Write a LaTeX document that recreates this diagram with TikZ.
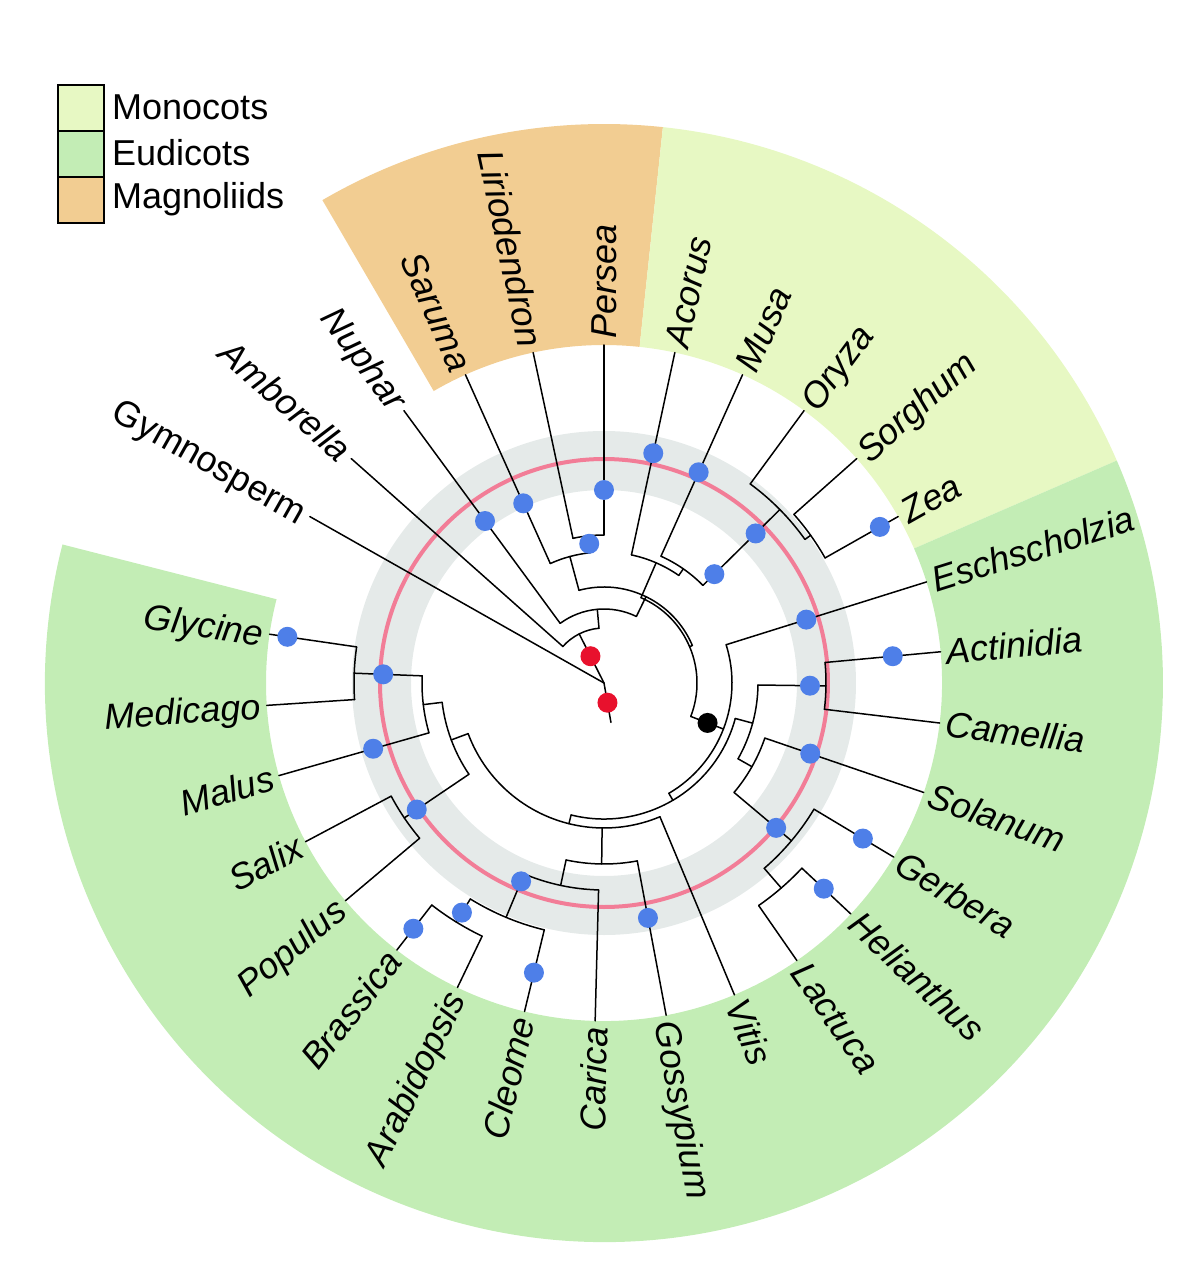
\documentclass[tikz,border=0pt]{standalone}
\usepackage{fontspec}
\setmainfont{Liberation Sans}
\definecolor{mono}{HTML}{E7F8C3}
\definecolor{eudi}{HTML}{C3EDB5}
\definecolor{magn}{HTML}{F2CD92}
\definecolor{ringgrey}{HTML}{E5EAE9}
\definecolor{ringpink}{HTML}{F27D97}
\definecolor{dotblue}{HTML}{4E7FE8}
\definecolor{dotred}{HTML}{E8112D}
\tikzset{
  br/.style={line width=1.5pt, black, line cap=round, line join=round},
  lab/.style={font=\fontsize{36}{40}\selectfont\itshape, inner sep=0pt, text height=26pt, text depth=0pt},
  labup/.style={font=\fontsize{36}{40}\selectfont, inner sep=0pt, text height=26pt, text depth=0pt},
  legbox/.style={draw=black, line width=1.8pt},
  legtext/.style={font=\fontsize{36}{40}\selectfont, inner sep=0pt, anchor=west},
  bluedot/.style={fill=dotblue},
  reddot/.style={fill=dotred},
}
\newcommand\tbranch[4]{\coordinate (#1-b) at (#2:#3pt); \coordinate (#1) at (#2:#4pt); \draw[br] (#1-b) -- (#1);}
\newcommand\tarc[3]{\draw[br] (#2:#1pt) arc[start angle=#2, end angle=#3, radius=#1pt];}
\newcommand\bdot[2]{\fill[bluedot] (#1:#2pt) circle[radius=10pt];}
\newcommand\rlab[3]{\node[lab, anchor=west, rotate=#2] (t-#1) at (#2:344pt) {#3};}
\newcommand\llab[3]{\node[lab, anchor=east, rotate=#2+180] (t-#1) at (#2:344pt) {#3};}
\newcommand\band[3]{\fill[#1] (#2:338pt) arc[start angle=#2, end angle=#3, radius=338pt] -- (#3:559pt) arc[start angle=#3, end angle=#2, radius=559pt] -- cycle;}
\begin{document}
\begin{tikzpicture}
\useasboundingbox (-604pt,-603pt) rectangle (596pt,683pt);
\coordinate (C) at (0,0);
% clade bands
\band{magn}{120.25}{83.95}
\band{mono}{83.95}{23.45}
\band{eudi}{23.45}{-194.35}
% legend
\draw[legbox, fill=mono] (-546pt,598pt) rectangle (-500pt,552pt);
\draw[legbox, fill=eudi] (-546pt,552pt) rectangle (-500pt,506pt);
\draw[legbox, fill=magn] (-546pt,506pt) rectangle (-500pt,460pt);
\node[legtext] (leg1) at (-492pt,576pt) {Monocots};
\node[legtext] (leg2) at (-492pt,530pt) {Eudicots};
\node[legtext] (leg3) at (-492pt,484pt) {Magnoliids};
% rings
\fill[ringgrey, even odd rule] (C) circle[radius=252pt] (C) circle[radius=193pt];
\draw[ringpink, line width=4pt] (C) circle[radius=224pt];
% tree: backbone
\tbranch{root}{-80}{0}{40}
\tbranch{Gymno}{150.5}{0}{338}
\tbranch{A1}{116.8}{0}{55}
\tarc{55}{138.4}{95.2}
\tbranch{Ambo}{138.4}{55}{338}
\tbranch{A2}{95.2}{55}{74}
\tarc{74}{126.3}{64.05}
\tbranch{Nuph}{126.3}{74}{338}
\tbranch{A3}{64.05}{74}{96}
\tarc{96}{105.1}{23.0}
\tbranch{Mag}{105.1}{96}{131}
\tarc{131}{114.2}{96.05}
\tbranch{Saru}{114.2}{131}{338}
\tbranch{LP}{96.05}{131}{148}
\tarc{148}{102.1}{90}
\tbranch{Liri}{102.1}{148}{338}
\tbranch{Pers}{90}{148}{338}
\tbranch{A4}{23.0}{96}{93}
\tarc{93}{66.55}{-21.08}
% monocots
\tbranch{MC}{66.55}{93}{131}
\tarc{131}{77.9}{55.2}
\tbranch{Acor}{77.9}{131}{338}
\tbranch{MC2}{55.2}{131}{139}
\tarc{139}{65.8}{44.6}
\tbranch{Musa}{65.8}{139}{338}
\tbranch{MC3}{44.6}{139}{247}
\tarc{247}{53.7}{35.55}
\tbranch{Oryz}{53.7}{247}{338}
\tbranch{SZ}{35.55}{247}{254}
\tarc{254}{41.6}{29.5}
\tbranch{Sorg}{41.6}{254}{338}
\tbranch{Zea}{29.5}{254}{338}
% eudicots
\tbranch{Eud}{-21.08}{93}{128}
\tarc{128}{17.4}{-59.56}
\tbranch{Esch}{17.4}{128}{338}
\tbranch{CE}{-59.56}{128}{136}
\tarc{136}{-15.12}{-104}
\tbranch{ER}{-15.12}{136}{154}
\tarc{154}{-0.75}{-29.49}
\tbranch{AC}{-0.75}{154}{222}
\tarc{222}{5.3}{-6.8}
\tbranch{Acti}{5.3}{222}{338}
\tbranch{Came}{-6.8}{222}{338}
\tbranch{AS}{-29.49}{154}{170}
\tarc{170}{-18.9}{-40.08}
\tbranch{Sola}{-18.9}{170}{338}
\tbranch{GHL}{-40.08}{170}{245}
\tarc{245}{-31}{-49.15}
\tbranch{Gerb}{-31}{245}{338}
\tbranch{HL}{-49.15}{245}{271}
\tarc{271}{-43.1}{-55.2}
\tbranch{Heli}{-43.1}{271}{338}
\tbranch{Lact}{-55.2}{271}{338}
\tbranch{Ros}{-104}{136}{145}
\tarc{145}{-67.3}{-159.56}
\tbranch{Viti}{-67.3}{145}{338}
\tbranch{Malv}{-90.74}{145}{181}
\tarc{181}{-79.4}{-102.09}
\tbranch{Goss}{-79.4}{181}{338}
\tbranch{BR}{-102.09}{181}{207}
\tarc{207}{-91.5}{-112.68}
\tbranch{Cari}{-91.5}{207}{338}
\tbranch{CAB}{-112.68}{207}{254}
\tarc{254}{-103.6}{-121.75}
\tbranch{Cleo}{-103.6}{254}{338}
\tbranch{AB}{-121.75}{254}{281}
\tarc{281}{-115.7}{-127.8}
\tbranch{Arab}{-115.7}{281}{338}
\tbranch{Bras}{-127.8}{281}{338}
\tbranch{Fab}{-159.56}{145}{163}
\tarc{163}{-145.95}{-173.18}
\tbranch{PS}{-145.95}{163}{241}
\tarc{241}{-139.9}{-152}
\tbranch{Popu}{-139.9}{241}{338}
\tbranch{Sali}{-152}{241}{338}
\tbranch{MGM}{-173.18}{163}{182}
\tarc{182}{-164.1}{-182.25}
\tbranch{Malu}{-164.1}{182}{338}
\tbranch{GM}{-182.25}{182}{250}
\tarc{250}{-176.2}{-188.3}
\tbranch{Medi}{-176.2}{250}{338}
\tbranch{Glyc}{-188.3}{250}{338}
% dots
\fill[reddot] (116.8:30pt) circle[radius=10pt];
\fill[reddot] (-80:20pt) circle[radius=10pt];
\fill[black] (-21.08:111pt) circle[radius=10pt];
\bdot{126.3}{201}
\bdot{114.2}{197}
\bdot{96.05}{140}
\bdot{90}{193}
\bdot{77.9}{235}
\bdot{65.8}{231}
\bdot{44.6}{155}
\bdot{44.6}{213}
\bdot{29.5}{317}
\bdot{17.4}{212}
\bdot{-0.75}{206}
\bdot{5.3}{290}
\bdot{-18.9}{218}
\bdot{-40.08}{225}
\bdot{-31}{302}
\bdot{-43.1}{301}
\bdot{-79.4}{239}
\bdot{-112.68}{215}
\bdot{-103.6}{298}
\bdot{-121.75}{270}
\bdot{-127.8}{311}
\bdot{-145.95}{226}
\bdot{-164.1}{240}
\bdot{-182.25}{221}
\bdot{-188.3}{320}
% labels
\node[labup, anchor=east, rotate=150.5+180] (t-Gymno) at (150.5:344pt) {Gymnosperm};
\llab{Ambo}{138.4}{Amborella}
\llab{Nuph}{126.3}{Nuphar}
\llab{Saru}{114.2}{Saruma}
\llab{Liri}{102.1}{Liriodendron}
\rlab{Pers}{90}{Persea}
\rlab{Acor}{77.9}{Acorus}
\rlab{Musa}{65.8}{Musa}
\rlab{Oryz}{53.7}{Oryza}
\rlab{Sorg}{41.6}{Sorghum}
\rlab{Zea}{29.5}{Zea}
\rlab{Esch}{17.4}{Eschscholzia}
\rlab{Acti}{5.3}{Actinidia}
\rlab{Came}{-6.8}{Camellia}
\rlab{Sola}{-18.9}{Solanum}
\rlab{Gerb}{-31}{Gerbera}
\rlab{Heli}{-43.1}{Helianthus}
\rlab{Lact}{-55.2}{Lactuca}
\rlab{Viti}{-67.3}{Vitis}
\rlab{Goss}{-79.4}{Gossypium}
\llab{Cari}{-91.5}{Carica}
\llab{Cleo}{-103.6}{Cleome}
\llab{Arab}{-115.7}{Arabidopsis}
\llab{Bras}{-127.8}{Brassica}
\llab{Popu}{-139.9}{Populus}
\llab{Sali}{-152}{Salix}
\llab{Malu}{-164.1}{Malus}
\llab{Medi}{-176.2}{Medicago}
\llab{Glyc}{-188.3}{Glycine}
\end{tikzpicture}
\end{document}
